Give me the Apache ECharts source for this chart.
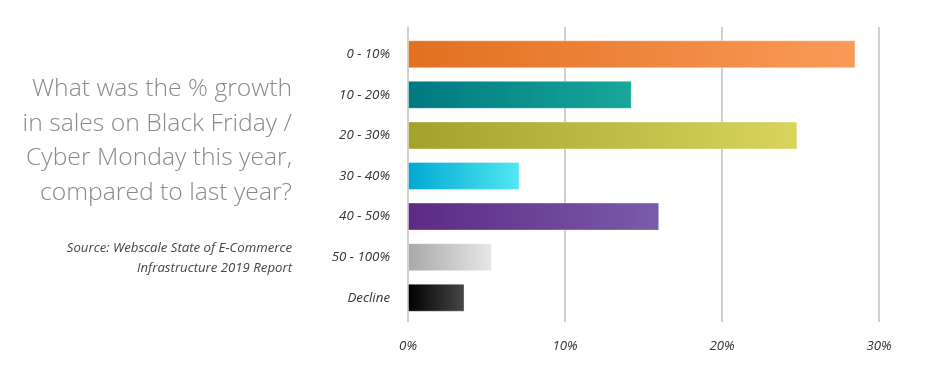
<!DOCTYPE html>
<html>
<head>
<meta charset="utf-8">
<script src="https://cdn.jsdelivr.net/npm/echarts@6/dist/echarts.min.js"></script>
<style>
html,body{margin:0;padding:0;background:#fff;}
#chart{width:939px;height:381px;}
</style>
</head>
<body>
<div id="chart"></div>
<script>
var categories = ['0 - 10%', '10 - 20%', '20 - 30%', '30 - 40%', '40 - 50%', '50 - 100%', 'Decline'];
var values = [28.5, 14.25, 24.8, 7.1, 16.0, 5.35, 3.6];
var colorStart = ['#E27020', '#007880', '#A2A22C', '#00A8D0', '#5C2A84', '#A8A8A8', '#000000'];
var colorEnd = ['#FA9A58', '#18A79A', '#D9D55C', '#52E8F4', '#7A5BAA', '#E8E8E8', '#474747'];
var tickValues = [0, 10, 20, 30];
var titleLines = ['What was the % growth', 'in sales on Black Friday /', 'Cyber Monday this year,', 'compared to last year?'];
var sourceLines = ['Source: Webscale State of E-Commerce', 'Infrastructure 2019 Report'];

var chart = echarts.init(document.getElementById('chart'));
var FONT = '"Open Sans", sans-serif';

var dataItems = values.map(function (v, i) {
  return {
    value: v,
    itemStyle: {
      color: new echarts.graphic.LinearGradient(0, 0, 1, 0, [
        { offset: 0, color: colorStart[i] },
        { offset: 1, color: colorEnd[i] }
      ]),
      borderColor: 'rgba(255,255,255,0.35)',
      borderWidth: 1
    }
  };
});

var graphics = [];
titleLines.forEach(function (t, i) {
  graphics.push({
    type: 'text', x: 292, y: 89 + i * 34.5,
    style: { text: t, textAlign: 'right', textVerticalAlign: 'middle',
      font: '300 24.7px ' + FONT, fill: '#8a8a8a' }
  });
});
sourceLines.forEach(function (t, i) {
  graphics.push({
    type: 'text', x: 292, y: 248 + i * 20,
    style: { text: t, textAlign: 'right', textVerticalAlign: 'middle',
      font: 'italic 400 13.2px ' + FONT, fill: '#444' }
  });
});

chart.setOption({
  animation: false,
  backgroundColor: '#fff',
  graphic: graphics,
  grid: [
    { left: 408, width: 471, top: 27, height: 295 },
    { left: 408, width: 471, top: 34, height: 284 }
  ],
  xAxis: [
    {
      gridIndex: 0, type: 'value', min: tickValues[0], max: tickValues[tickValues.length - 1], interval: 10,
      axisLine: { show: false }, axisTick: { show: false },
      splitLine: { show: true, lineStyle: { color: '#cfcfcf', width: 2 } },
      axisLabel: { formatter: '{value}%', margin: 18, color: '#333',
        fontFamily: FONT, fontStyle: 'italic', fontSize: 13.3 }
    },
    {
      gridIndex: 1, type: 'value', min: tickValues[0], max: tickValues[tickValues.length - 1],
      show: false, splitLine: { show: false }
    }
  ],
  yAxis: [
    {
      gridIndex: 0, type: 'value', min: 0, max: 1, show: false, splitLine: { show: false }
    },
    {
      gridIndex: 1, type: 'category', data: categories, inverse: true,
      axisLine: { show: false }, axisTick: { show: false }, splitLine: { show: false },
      axisLabel: { margin: 18, color: '#333', fontFamily: FONT, fontStyle: 'italic', fontSize: 13.3 }
    }
  ],
  series: [{
    type: 'bar', xAxisIndex: 1, yAxisIndex: 1,
    barWidth: 28, data: dataItems
  }]
});
</script>
</body>
</html>
